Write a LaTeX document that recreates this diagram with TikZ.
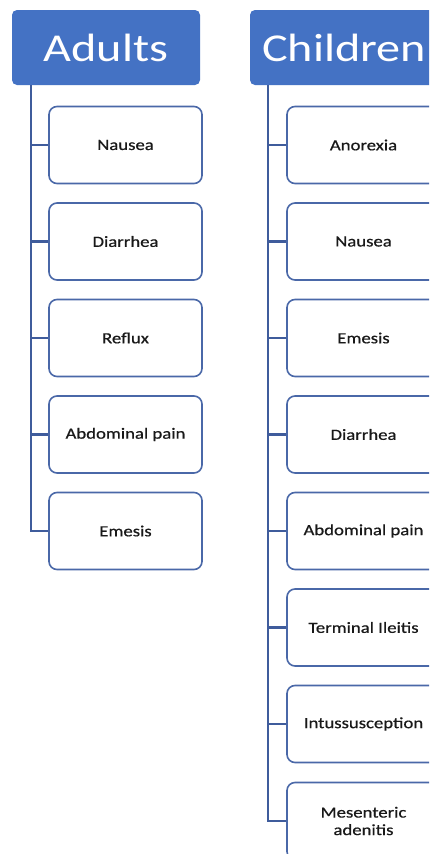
\documentclass[tikz,border=0pt]{standalone}
\usepackage{fontspec}
\setmainfont[FakeStretch=1.22]{Carlito}
\newfontfamily\boxfont[FakeStretch=1.2,FakeBold=0.6]{Carlito}
\definecolor{hdr}{HTML}{4472C4}
\definecolor{edge}{HTML}{4A68A8}
\definecolor{conn}{HTML}{3F5C9C}
\begin{document}
\begin{tikzpicture}[x=1pt,y=1pt,
  header/.style={draw=none,fill=hdr,rounded corners=5pt,minimum width=188pt,minimum height=75pt,text=white,font=\fontsize{39.5}{40}\selectfont,inner sep=0pt},
  item/.style={draw=edge,line width=1.6pt,fill=white,rounded corners=8pt,minimum width=153pt,minimum height=77pt,align=center,font=\boxfont\fontsize{15.6}{17.5}\selectfont,text=black!90,inner sep=0pt},
  link/.style={draw=conn,line width=2.2pt}]
\useasboundingbox (0,0) rectangle (429,-854);
\clip (0,0) rectangle (429,-854);
\fill[white] (0,0) rectangle (429,-854);
% Adults
\node[header] (A) at (106,-47.5) {Adults};
\coordinate (Atop) at (31,-85);
\foreach \t/\y [count=\i] in {Nausea/145,Diarrhea/241.5,Reflux/338,Abdominal pain/434.5,Emesis/531}{
  \node[item] (a\i) at (125.5,-\y) {\t};
}
\draw[link] (Atop) |- (a5.west);
\foreach \i in {1,...,4}{
  \draw[link] (a\i.west) -- (a\i.west -| Atop);
}
% Children
\node[header] (C) at (344,-47.5) {Children};
\coordinate (Ctop) at (268,-85);
\foreach \t/\y [count=\i] in {Anorexia/145,Nausea/241.5,Emesis/338,Diarrhea/434.5,Abdominal pain/531,Terminal Ileitis/627.5,Intussusception/724,{Mesenteric\\adenitis}/821}{
  \node[item] (c\i) at (363.5,-\y) {\t};
}
\draw[link] (Ctop) |- (c8.west);
\foreach \i in {1,...,7}{
  \draw[link] (c\i.west) -- (c\i.west -| Ctop);
}
\end{tikzpicture}
\end{document}
